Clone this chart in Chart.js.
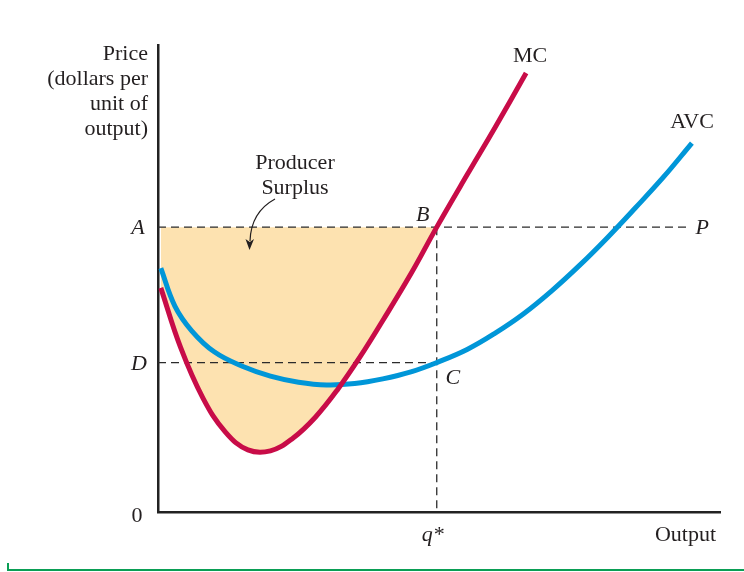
<!DOCTYPE html>
<html>
<head>
<meta charset="utf-8">
<script src="https://cdn.jsdelivr.net/npm/chart.js@4.4.1/dist/chart.umd.min.js"></script>
<style>
  html, body { margin: 0; padding: 0; background: #fff; }
  #wrap { width: 744px; height: 572px; }
</style>
</head>
<body>
<div id="wrap"><canvas id="myCanvas" width="744" height="572"></canvas></div>
<script>
// marginal cost curve
const mcOutput = [0.5, 4, 8, 12, 16, 20, 24, 28, 32, 36, 40, 45, 49.6, 55, 60, 65.5];
const mcCost   = [48.0, 35.3, 24.4, 17.1, 13.3, 13.1, 15.8, 20.3, 26.3, 33.3, 41.0, 51.0, 61.0, 72.2, 82.4, 94.0];

// average variable cost curve
const avcOutput = [0.5, 3, 6, 10, 15, 20, 25, 30, 35, 40, 45, 49.6, 55, 60, 65, 70, 75, 80, 85, 90, 95];
const avcCost   = [52.2, 44.1, 38.8, 34.3, 31.2, 29.1, 27.8, 27.2, 27.5, 28.5, 30.0, 32.0, 34.8, 38.3, 42.4, 47.3, 52.8, 58.8, 65.2, 71.8, 79.0];

const priceA = 61;    // market price P
const priceD = 32;    // AVC at q*
const qStar = 49.6;
const priceLineEnd = 94.7;

const priceTitle = ['Price', '(dollars per', 'unit of', 'output)'];

const serif = '"Liberation Serif", "Times New Roman", serif';
const ink = '#231f20';
const mcColor = 'rgb(200, 12, 72)';
const avcColor = 'rgb(0, 150, 216)';
const surplusColor = 'rgb(253, 226, 176)';

const toPoints = (xs, ys) => xs.map((v, i) => ({ x: v, y: ys[i] }));
const mcPoints = toPoints(mcOutput, mcCost);
const avcPoints = toPoints(avcOutput, avcCost);
const surplusPoints = mcPoints.filter(p => p.x <= qStar);

const dashed = {
  borderColor: '#2b2b2b',
  borderWidth: 1.3,
  borderDash: [8, 5],
  pointRadius: 0,
  fill: false,
  order: 3
};

const labels = {
  id: 'labels',
  afterDraw(chart) {
    const { ctx, scales: { x, y } } = chart;
    ctx.save();
    ctx.fillStyle = ink;
    ctx.textBaseline = 'alphabetic';

    ctx.font = `22px ${serif}`;
    ctx.textAlign = 'right';
    priceTitle.forEach((line, i) => ctx.fillText(line, 148, 60 + i * 25));

    ctx.textAlign = 'center';
    ctx.fillText('0', 137, y.getPixelForValue(0) + 10);
    ctx.fillText('MC', 530, 62);
    ctx.fillText('AVC', 692, 128);
    ctx.fillText('Producer', 295, 169);
    ctx.fillText('Surplus', 295, 194);
    ctx.textAlign = 'right';
    ctx.fillText('Output', 716, 541);

    ctx.font = `italic 22px ${serif}`;
    ctx.textAlign = 'center';
    ctx.fillText('A', 138, y.getPixelForValue(priceA) + 7);
    ctx.fillText('D', 139, y.getPixelForValue(priceD) + 7);
    ctx.fillText('q*', x.getPixelForValue(qStar) - 4, 541);
    ctx.fillText('B', x.getPixelForValue(qStar) - 14, y.getPixelForValue(priceA) - 6);
    ctx.fillText('C', x.getPixelForValue(qStar) + 16, y.getPixelForValue(priceD) + 21);
    ctx.fillText('P', x.getPixelForValue(priceLineEnd) + 12, y.getPixelForValue(priceA) + 7);

    // arrow from the surplus label into the shaded area
    ctx.strokeStyle = ink;
    ctx.lineWidth = 1.2;
    ctx.beginPath();
    ctx.moveTo(275, 199);
    ctx.quadraticCurveTo(251, 212, 250, 241);
    ctx.stroke();
    ctx.beginPath();
    ctx.moveTo(249.5, 250);
    ctx.lineTo(245.5, 239);
    ctx.lineTo(249.8, 242);
    ctx.lineTo(254, 239);
    ctx.closePath();
    ctx.fill();

    // green rule along the bottom
    ctx.strokeStyle = '#0a9e55';
    ctx.lineWidth = 2;
    ctx.beginPath();
    ctx.moveTo(8, 563);
    ctx.lineTo(8, 570);
    ctx.lineTo(744, 570);
    ctx.stroke();
    ctx.restore();
  }
};

const data = {
  datasets: [
    {
      label: 'MC',
      data: mcPoints,
      borderColor: mcColor,
      borderWidth: 5,
      pointRadius: 0,
      tension: 0.4,
      fill: false,
      order: 0
    },
    {
      label: 'AVC',
      data: avcPoints,
      borderColor: avcColor,
      borderWidth: 5,
      pointRadius: 0,
      tension: 0.4,
      fill: false,
      order: 1
    },
    { ...dashed, label: 'P', data: [{ x: 0, y: priceA }, { x: priceLineEnd, y: priceA }] },
    { ...dashed, label: 'D', data: [{ x: 0, y: priceD }, { x: qStar, y: priceD }] },
    { ...dashed, label: 'q*', data: [{ x: qStar, y: priceA }, { x: qStar, y: 0 }] },
    {
      label: 'Producer Surplus',
      data: surplusPoints,
      borderWidth: 0,
      borderColor: 'rgba(0,0,0,0)',
      backgroundColor: surplusColor,
      pointRadius: 0,
      tension: 0.4,
      fill: { value: priceA },
      order: 5
    }
  ]
};

const config = {
  type: 'line',
  data: data,
  options: {
    responsive: false,
    animation: false,
    layout: { padding: { left: 150, right: 24, top: 45, bottom: 52 } },
    plugins: {
      legend: { display: false },
      tooltip: { enabled: false }
    },
    scales: {
      x: {
        type: 'linear',
        min: 0,
        max: 100,
        grid: { display: false },
        ticks: { display: false },
        border: { color: '#222', width: 2.5 }
      },
      y: {
        type: 'linear',
        min: 0,
        max: 100,
        grid: { display: false },
        ticks: { display: false },
        border: { color: '#222', width: 2.5 }
      }
    }
  },
  plugins: [labels]
};

const myChart = new Chart(document.getElementById('myCanvas'), config);
</script>
</body>
</html>
